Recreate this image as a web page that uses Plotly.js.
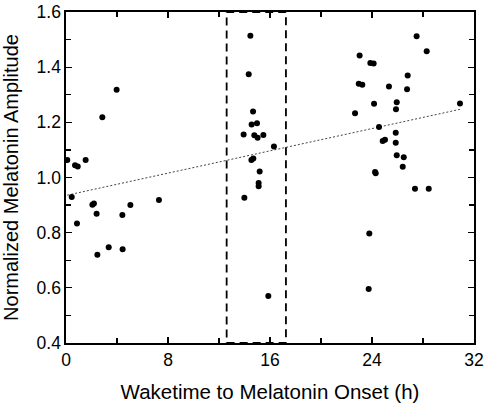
<!DOCTYPE html>
<html>
<head>
<meta charset="utf-8">
<script src="https://cdn.plot.ly/plotly-3.0.1.min.js"></script>
<style>html,body{margin:0;padding:0;background:#fff;}#chart{width:486px;height:406px;}</style>
</head>
<body>
<div id="chart"></div>
<script>
// Waketime to melatonin onset (h)
var wakeHours = [
  3.97, 2.85, 0.10, 1.54, 0.71, 0.92, 0.45, 2.07, 2.19, 5.05, 7.29, 2.40, 4.42, 0.86, 3.35, 2.46, 4.44,
  14.46, 14.33, 14.67, 14.56, 14.98, 13.93, 14.77, 15.03, 15.48, 16.31, 14.54, 14.69, 15.19, 15.11, 15.11, 13.99, 15.87,
  27.50, 28.29, 23.03, 23.87, 24.13, 26.80, 22.96, 23.24, 25.33, 26.75, 24.16, 25.94, 25.88, 22.67, 30.90,
  24.55, 25.86, 24.84, 25.02, 25.86, 25.94, 26.49, 26.41, 24.24, 24.29, 27.37, 28.45, 23.79, 23.74
];
// Normalized melatonin amplitude
var amplitude = [
  1.318, 1.218, 1.063, 1.063, 1.044, 1.040, 0.929, 0.901, 0.906, 0.900, 0.918, 0.869, 0.864, 0.833, 0.747, 0.720, 0.740,
  1.514, 1.374, 1.239, 1.192, 1.197, 1.156, 1.153, 1.144, 1.154, 1.112, 1.063, 1.069, 1.022, 0.980, 0.968, 0.927, 0.570,
  1.512, 1.458, 1.442, 1.415, 1.413, 1.370, 1.340, 1.336, 1.330, 1.320, 1.267, 1.273, 1.247, 1.233, 1.268,
  1.183, 1.162, 1.132, 1.137, 1.126, 1.081, 1.073, 1.039, 1.020, 1.015, 0.959, 0.959, 0.797, 0.596
];
// Linear trend
var fitIntercept = 0.935;
var fitSlope = 0.0101;
// Dashed box range (h)
var boxRange = [12.6, 17.25];
// Axis ranges and ticks
var xRange = [0, 32];
var yRange = [0.4, 1.6];

var xMin = Math.min.apply(null, wakeHours);
var xMax = Math.max.apply(null, wakeHours);
var fitX = [xMin, xMax];
var fitY = fitX.map(function (x) { return fitIntercept + fitSlope * x; });

var font = 'Liberation Sans, Arial, Helvetica, sans-serif';

var traces = [
  {
    x: fitX, y: fitY, mode: 'lines', type: 'scatter',
    line: {color: '#444', width: 1, dash: '2px,2px'},
    hoverinfo: 'skip', showlegend: false
  },
  {
    x: wakeHours, y: amplitude, mode: 'markers', type: 'scatter',
    marker: {color: '#000', size: 6},
    showlegend: false
  }
];

var axisCommon = {
  showgrid: false, zeroline: false,
  showline: true, linecolor: '#000', linewidth: 1.6,
  mirror: 'ticks', ticks: 'inside', ticklen: 6, tickwidth: 1.3, tickcolor: '#000',
  tickfont: {family: font, size: 17.5, color: '#000'}
};

var layout = {
  width: 486, height: 406,
  margin: {l: 66, r: 12, t: 12, b: 63, pad: 0},
  paper_bgcolor: '#fff', plot_bgcolor: '#fff',
  font: {family: font, color: '#000'},
  xaxis: Object.assign({}, axisCommon, {
    range: xRange, tickmode: 'linear', tick0: 0, dtick: 8,
    minor: {dtick: 4, ticks: 'inside', ticklen: 5, tickwidth: 1.3, tickcolor: '#000'},
    title: {text: 'Waketime to Melatonin Onset (h)', font: {family: font, size: 20.5, color: '#000'}, standoff: 16}
  }),
  yaxis: Object.assign({}, axisCommon, {
    range: yRange, tickmode: 'linear', tick0: 0.4, dtick: 0.2, tickformat: '.1f',
    minor: {dtick: 0.1, ticks: 'inside', ticklen: 5, tickwidth: 1.3, tickcolor: '#000'},
    title: {text: 'Normalized Melatonin Amplitude', font: {family: font, size: 20, color: '#000'}, standoff: 14}
  }),
  shapes: [{
    type: 'rect', xref: 'x', yref: 'y',
    x0: boxRange[0], x1: boxRange[1], y0: yRange[0], y1: yRange[1],
    line: {color: '#000', width: 1.8, dash: '8px,5px'}
  }]
};

Plotly.newPlot('chart', traces, layout, {staticPlot: true, displayModeBar: false});
</script>
</body>
</html>
